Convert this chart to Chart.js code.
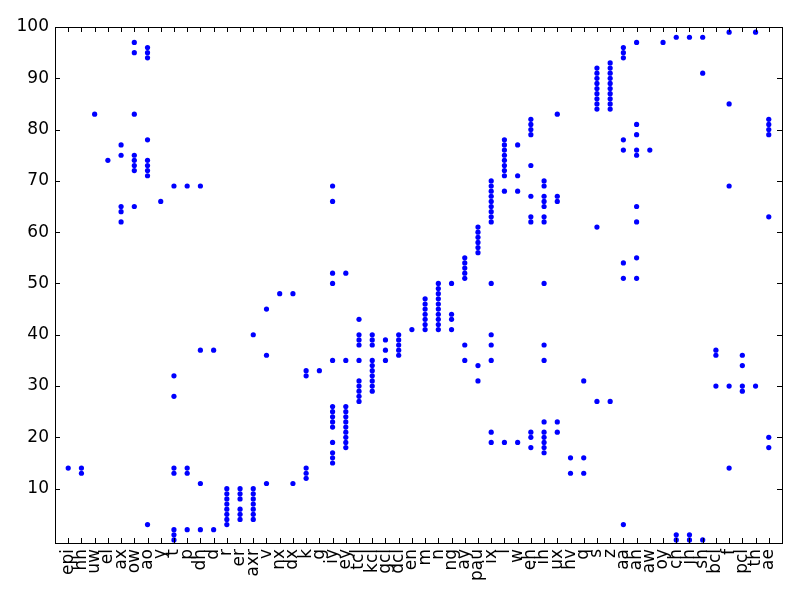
<!DOCTYPE html>
<html>
<head>
<meta charset="utf-8">
<script src="https://cdn.jsdelivr.net/npm/chart.js@4.4.1/dist/chart.umd.min.js"></script>
<style>
  body { margin: 0; background: #fff; }
  #wrap { width: 800px; height: 600px; }
</style>
</head>
<body>
<div id="wrap"><canvas id="myChart" width="800" height="600"></canvas></div>
<script>
// phone labels along the x axis
var categories = ["epi", "hh", "uw", "el", "ax", "ow", "ao", "y", "t", "p", "dh", "d", "r", "er", "axr", "v", "nx", "dx", "k", "g",
	"iy", "ey", "tcl", "kcl", "gcl", "dcl", "en", "m", "n", "ng", "ay", "pau", "ix", "l", "w", "eh", "ih", "ux", "hv", "q",
	"s", "z", "aa", "ah", "aw", "oy", "ch", "jh", "sh", "bcl", "f", "pcl", "th", "ae"];

// y values for each category (same order as above)
var values = [
	[14],
	[14, 13],
	[83],
	[74],
	[77, 75, 65, 64, 62],
	[97, 95, 83, 75, 74, 73, 72, 65],
	[96, 95, 94, 78, 74, 73, 72, 71, 3],
	[66],
	[69, 32, 28, 14, 13, 2, 1, 0],
	[69, 14, 13, 2],
	[69, 37, 11, 2],
	[37, 2],
	[10, 9, 8, 7, 6, 5, 4, 3],
	[10, 9, 8, 6, 5, 4],
	[40, 10, 9, 8, 7, 6, 5, 4],
	[45, 36, 11],
	[48],
	[48, 11],
	[33, 32, 14, 13, 12],
	[33],
	[69, 66, 52, 50, 35, 26, 25, 24, 23, 22, 19, 17, 16, 15],
	[52, 35, 26, 25, 24, 23, 22, 21, 20, 19, 18],
	[43, 40, 39, 38, 35, 31, 30, 29, 28, 27],
	[40, 39, 38, 35, 34, 33, 32, 31, 30, 29],
	[39, 37, 35],
	[40, 39, 38, 37, 36],
	[41],
	[47, 46, 45, 44, 43, 42, 41],
	[50, 49, 48, 47, 46, 45, 44, 43, 42, 41],
	[50, 44, 43, 41],
	[55, 54, 53, 52, 51, 38, 35],
	[61, 60, 59, 58, 57, 56, 34, 31],
	[70, 69, 68, 67, 66, 65, 64, 63, 62, 50, 40, 38, 35, 21, 19],
	[78, 77, 76, 75, 74, 73, 72, 71, 68, 19],
	[77, 71, 68, 19],
	[82, 81, 80, 79, 73, 67, 63, 62, 21, 20, 18],
	[70, 69, 67, 66, 65, 63, 62, 50, 38, 35, 23, 21, 20, 19, 18, 17],
	[83, 67, 66, 23, 21],
	[16, 13],
	[31, 16, 13],
	[92, 91, 90, 89, 88, 87, 86, 85, 84, 61, 27],
	[93, 92, 91, 90, 89, 88, 87, 86, 85, 84, 27],
	[96, 95, 94, 78, 76, 54, 51, 3],
	[97, 81, 79, 76, 75, 65, 62, 55, 51],
	[76],
	[97],
	[98, 1, 0],
	[98, 1, 0],
	[98, 91, 0],
	[37, 36, 30],
	[99, 85, 69, 30, 14],
	[36, 34, 30, 29],
	[99, 30],
	[82, 81, 80, 79, 63, 20, 18]
];

var yTicks = [10, 20, 30, 40, 50, 60, 70, 80, 90, 100];

var points = [];
for (var i = 0; i < categories.length; i++) {
	for (var j = 0; j < values[i].length; j++) {
		points.push({ x: i, y: values[i][j] });
	}
}

// matplotlib style frame + inward ticks on all four sides
var frameTicks = {
	id: "frameTicks",
	afterDraw: function (chart) {
		var ctx = chart.ctx;
		var a = chart.chartArea;
		var xs = chart.scales.x;
		var ys = chart.scales.y;
		ctx.save();
		ctx.strokeStyle = "#000";
		ctx.lineWidth = 1;
		ctx.beginPath();
		xs.ticks.forEach(function (t) {
			var px = Math.round(xs.getPixelForValue(t.value)) + 0.5;
			ctx.moveTo(px, a.bottom);
			ctx.lineTo(px, a.bottom - 5);
			ctx.moveTo(px, a.top);
			ctx.lineTo(px, a.top + 5);
		});
		ys.ticks.forEach(function (t) {
			var py = Math.round(ys.getPixelForValue(t.value)) + 0.5;
			ctx.moveTo(a.left, py);
			ctx.lineTo(a.left + 5, py);
			ctx.moveTo(a.right, py);
			ctx.lineTo(a.right - 5, py);
		});
		ctx.stroke();
		ctx.strokeRect(Math.round(a.left) + 0.5, Math.round(a.top) + 0.5, Math.round(a.right - a.left), Math.round(a.bottom - a.top));
		ctx.restore();
	},
};

var ctx = document.getElementById("myChart").getContext("2d");
var myChart = new Chart(ctx, {
	type: "scatter",
	data: {
		datasets: [
			{
				data: points,
				backgroundColor: "#0000ff",
				borderColor: "#0000ff",
				pointRadius: 2.6,
				pointHoverRadius: 2.6,
				borderWidth: 0,
			},
		],
	},
	options: {
		responsive: false,
		animation: false,
		events: [],
		layout: {
			padding: { left: 0, top: 27, right: 18, bottom: 0 },
		},
		plugins: {
			legend: { display: false },
			tooltip: { enabled: false },
		},
		scales: {
			x: {
				type: "linear",
				min: -1,
				max: 54,
				grid: { display: false, drawTicks: false },
				border: { display: false },
				afterBuildTicks: function (scale) {
					scale.ticks = categories.map(function (c, i) {
						return { value: i };
					});
				},
				afterFit: function (scale) {
					scale.height = 57;
				},
				ticks: {
					autoSkip: false,
					maxRotation: 90,
					minRotation: 90,
					padding: 6,
					color: "#000",
					font: { family: "DejaVu Sans", size: 17 },
					callback: function (v) {
						return categories[v];
					},
				},
			},
			y: {
				min: -0.6,
				max: 100,
				grid: { display: false, drawTicks: false },
				border: { display: false },
				afterBuildTicks: function (scale) {
					scale.ticks = yTicks.map(function (v) {
						return { value: v };
					});
				},
				afterFit: function (scale) {
					scale.width = 55;
				},
				ticks: {
					padding: 6,
					color: "#000",
					font: { family: "DejaVu Sans", size: 17 },
				},
			},
		},
	},
	plugins: [frameTicks],
});
</script>
</body>
</html>
